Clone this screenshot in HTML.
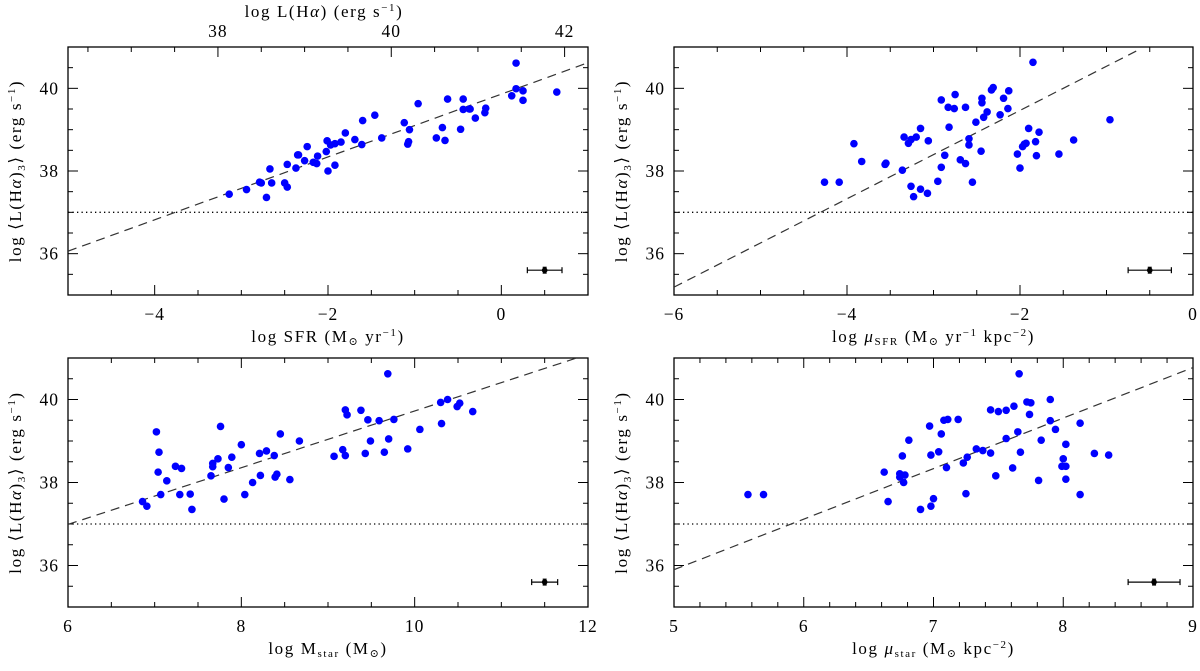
<!DOCTYPE html>
<html><head><meta charset="utf-8">
<style>
html,body{margin:0;padding:0;background:#fff;}
svg text{font-family:"Liberation Serif","DejaVu Serif",serif;fill:#000;}
</style></head>
<body>
<svg id="fig" width="1200" height="666" viewBox="0 0 1200 666" xmlns="http://www.w3.org/2000/svg"></svg>
<script>
// ---- Panel A: log SFR ----
const sfrX = [-3.14,-2.94,-2.79,-2.77,-2.71,-2.65,-2.67,-2.50,-2.47,-2.47,-2.37,-2.35,-2.34,-2.27,-2.24,-2.17,-2.13,-2.12,-2.02,-2.00,-1.92,-2.01,-1.97,-1.92,-1.85,-1.80,-1.69,-1.61,-1.60,-1.46,-1.38,-1.12,-1.06,-1.08,-1.07,-0.96,-0.75,-0.68,-0.65,-0.62,-0.47,-0.44,-0.44,-0.37,-0.36,-0.30,-0.19,-0.18,0.12,0.17,0.17,0.25,0.25,0.64];
const sfrY = [37.44,37.55,37.73,37.71,37.36,37.71,38.05,37.71,37.61,38.16,38.07,38.39,38.39,38.25,38.59,38.21,38.18,38.36,38.47,38.00,38.14,38.73,38.63,38.66,38.70,38.92,38.76,38.64,39.22,39.35,38.80,39.17,39.00,38.65,38.71,39.63,38.80,39.05,38.74,39.74,39.01,39.74,39.49,39.50,39.50,39.28,39.41,39.52,39.82,39.99,40.61,39.94,39.71,39.91];
// ---- Panel B: log mu_SFR ----
const musfrX = [-4.26,-4.09,-3.92,-3.83,-3.56,-3.55,-3.36,-3.34,-3.29,-3.26,-3.20,-3.15,-3.06,-3.26,-3.23,-3.15,-3.07,-2.95,-2.91,-2.87,-2.82,-2.91,-2.83,-2.76,-2.75,-2.63,-2.69,-2.63,-2.59,-2.59,-2.55,-2.51,-2.45,-2.42,-2.44,-2.44,-2.38,-2.33,-2.31,-2.23,-2.19,-2.14,-2.13,-2.03,-2.00,-1.97,-1.95,-1.93,-1.90,-1.85,-1.82,-1.81,-1.78,-1.55,-1.38,-0.96];
const musfrY = [37.73,37.73,38.66,38.23,38.16,38.19,38.02,38.82,38.67,38.76,38.82,39.03,38.73,37.63,37.38,37.56,37.46,37.75,38.09,38.38,39.06,39.72,39.54,39.51,39.85,39.54,38.27,38.18,38.63,38.78,37.73,39.18,38.48,39.30,39.65,39.76,39.43,39.96,40.02,39.36,39.76,39.51,39.94,38.41,38.07,38.59,38.65,38.67,39.03,40.63,38.71,38.37,38.94,38.41,38.75,39.24];
// ---- Panel C: log M_star ----
const mstarX = [6.86,6.91,7.02,7.05,7.04,7.07,7.14,7.24,7.31,7.29,7.41,7.43,7.65,7.67,7.67,7.73,7.76,7.80,7.85,7.89,8.00,8.04,8.13,8.21,8.22,8.29,8.38,8.39,8.41,8.45,8.56,8.67,9.07,9.17,9.20,9.20,9.22,9.38,9.43,9.46,9.49,9.59,9.65,9.69,9.70,9.76,9.92,10.06,10.30,10.31,10.38,10.49,10.52,10.67];
const mstarY = [37.54,37.43,39.22,38.73,38.25,37.71,38.04,38.39,38.34,37.71,37.72,37.35,38.16,38.38,38.46,38.57,39.35,37.60,38.36,38.61,38.91,37.71,38.00,38.70,38.17,38.76,38.65,38.13,38.20,39.17,38.07,39.00,38.63,38.79,38.65,39.75,39.63,39.74,38.70,39.51,39.00,39.49,38.73,40.62,39.05,39.52,38.81,39.28,39.93,39.42,40.00,39.83,39.91,39.71];
// ---- Panel D: log mu_star ----
const mustarX = [5.57,5.69,6.62,6.65,6.74,6.74,6.76,6.78,6.77,6.81,6.90,6.97,6.98,6.98,7.00,7.04,7.06,7.08,7.11,7.10,7.19,7.23,7.25,7.26,7.33,7.38,7.44,7.44,7.48,7.50,7.56,7.56,7.61,7.62,7.65,7.66,7.67,7.72,7.75,7.74,7.81,7.83,7.90,7.90,7.94,7.99,8.00,8.02,8.02,8.02,8.13,8.13,8.24,8.35];
const mustarY = [37.71,37.71,38.25,37.54,38.21,38.13,38.64,38.18,38.00,39.02,37.35,39.36,38.66,37.43,37.61,38.74,39.17,39.50,39.52,38.36,39.52,38.47,37.73,38.61,38.81,38.77,38.71,39.75,38.16,39.71,39.74,39.06,38.35,39.84,39.22,40.62,38.73,39.94,39.92,39.64,38.05,39.02,40.00,39.49,39.28,38.39,38.57,38.92,38.39,38.08,39.43,37.71,38.70,38.66];
// fit lines [x0,y0,x1,y1] in data units, error bar [x,y,dx,dy]
const fitA = [-5, 36.06, 1, 40.62];
const fitB = [-6, 35.19, -0.62, 40.94];
const fitC = [6, 36.99, 12, 41.09];
const fitD = [5, 35.90, 9, 40.77];
const errA = [0.5, 35.6, 0.2, 0.07];
const errB = [-0.5, 35.6, 0.25, 0.07];
const errC = [11.5, 35.6, 0.15, 0.07];
const errD = [8.7, 35.6, 0.2, 0.07];
const limitY = 37;
const yTickLabels = [36, 38, 40];

const NS = "http://www.w3.org/2000/svg";
const svg = document.getElementById('fig');
function mk(tag, attrs, parent) {
  const e = document.createElementNS(NS, tag);
  for (const k in attrs) e.setAttribute(k, attrs[k]);
  (parent || svg).appendChild(e);
  return e;
}

const SUB = 'font-size="11"';
const panels = [
  {id:'sfr', L:68, R:588, T:47, B:295, xmin:-5, xmax:1, xminor:0.5, xmajor:2, labels:[-4,-2,0], xs:sfrX, ys:sfrY, fit:fitA, err:errA, xtitle:'log SFR   (M<tspan '+SUB+' dy="3">⊙</tspan><tspan dy="-3"> yr</tspan><tspan '+SUB+' dy="-6">−1</tspan><tspan dy="6">)</tspan>', top:true},
  {id:'musfr', L:674, R:1193, T:47, B:295, xmin:-6, xmax:0, xminor:0.5, xmajor:2, labels:[-6,-4,-2,0], xs:musfrX, ys:musfrY, fit:fitB, err:errB, xtitle:'log <tspan font-style="italic">μ</tspan><tspan '+SUB+' dy="3">SFR</tspan><tspan dy="-3">   (M</tspan><tspan '+SUB+' dy="3">⊙</tspan><tspan dy="-3"> yr</tspan><tspan '+SUB+' dy="-6">−1</tspan><tspan dy="6"> kpc</tspan><tspan '+SUB+' dy="-6">−2</tspan><tspan dy="6">)</tspan>'},
  {id:'mstar', L:68, R:588, T:358, B:607, xmin:6, xmax:12, xminor:0.5, xmajor:2, labels:[6,8,10,12], xs:mstarX, ys:mstarY, fit:fitC, err:errC, xtitle:'log M<tspan '+SUB+' dy="3">star</tspan><tspan dy="-3">   (M</tspan><tspan '+SUB+' dy="3">⊙</tspan><tspan dy="-3">)</tspan>'},
  {id:'mustar', L:674, R:1193, T:358, B:607, xmin:5, xmax:9, xminor:0.2, xmajor:1, labels:[5,6,7,8,9], xs:mustarX, ys:mustarY, fit:fitD, err:errD, xtitle:'log <tspan font-style="italic">μ</tspan><tspan '+SUB+' dy="3">star</tspan><tspan dy="-3">   (M</tspan><tspan '+SUB+' dy="3">⊙</tspan><tspan dy="-3"> kpc</tspan><tspan '+SUB+' dy="-6">−2</tspan><tspan dy="6">)</tspan>'}
];

panels.forEach(p => {
  const g = mk('g', {});
  
  
  const sx = v => p.L + (v - p.xmin) / (p.xmax - p.xmin) * (p.R - p.L);
  const sy = v => p.B - (v - 35) / 6 * (p.B - p.T);
  const cid = 'clip-' + p.id;
  const cp = mk('clipPath', {id: cid}, g);
  mk('rect', {x:p.L, y:p.T, width:p.R-p.L, height:p.B-p.T}, cp);

  const tg = mk('g', {stroke:'#000', 'stroke-width':1}, g);
  
  
  const nx = Math.round((p.xmax - p.xmin) / p.xminor);
  for (let i = 1; i < nx; i++) {
    const v = p.xmin + i * p.xminor;
    const maj = Math.abs(v / p.xmajor - Math.round(v / p.xmajor)) < 1e-6;
    const len = maj ? 10 : 5;
    const x = sx(v);
    mk('line', {x1:x, x2:x, y1:p.B, y2:p.B-len}, tg);
    if (!p.top) mk('line', {x1:x, x2:x, y1:p.T, y2:p.T+len}, tg);
  }
  for (let i = 1; i < 12; i++) {
    const v = 35 + i * 0.5;
    const maj = (i % 4 === 2);
    const len = maj ? 10 : 5;
    const y = sy(v);
    mk('line', {x1:p.L, x2:p.L+len, y1:y, y2:y}, tg);
    mk('line', {x1:p.R, x2:p.R-len, y1:y, y2:y}, tg);
  }
  const fr = mk('rect', {x:p.L, y:p.T, width:p.R-p.L, height:p.B-p.T, fill:'none', stroke:'#000', 'stroke-width':1.3}, g);
  
  

  p.labels.forEach(v => {
    const t = mk('text', {x:sx(v), y:p.B+25, 'font-size':17.5, 'text-anchor':'middle', 'letter-spacing':'1'}, g);
    
    
    t.textContent = v < 0 ? '−' + Math.abs(v) : String(v);
  });
  yTickLabels.forEach(v => {
    const t = mk('text', {x:p.L-9, y:sy(v)+6, 'font-size':17.5, 'text-anchor':'end', 'letter-spacing':'1'}, g);
    
    
    t.textContent = String(v);
  });
  const xt = mk('text', {x:(p.L+p.R)/2, y:p.B+47, 'font-size':17, 'text-anchor':'middle', 'letter-spacing':'1.6'}, g);
  
  
  xt.innerHTML = p.xtitle;
  const cy = (p.T + p.B) / 2;
  const yt = mk('text', {x:0, y:0, 'font-size':17, 'text-anchor':'middle', 'letter-spacing':'1.6', transform:`translate(${p.L-47},${cy}) rotate(-90)`}, g);
  
  
  yt.innerHTML = 'log ⟨L(H<tspan font-style="italic">α</tspan>)<tspan font-size="11" dy="4">3</tspan><tspan dy="-4">⟩ (erg s</tspan><tspan font-size="11" dy="-6">−1</tspan><tspan dy="6">)</tspan>';

  const inner = mk('g', {'clip-path':`url(#${cid})`}, g);
  const dl = mk('line', {x1:p.L, x2:p.R, y1:sy(limitY), y2:sy(limitY), stroke:'#000', 'stroke-width':1.3, 'stroke-dasharray':'1.3 3.2'}, inner);
  
  
  const f = p.fit;
  const fl = mk('line', {x1:sx(f[0]), y1:sy(f[1]), x2:sx(f[2]), y2:sy(f[3]), stroke:'#333', 'stroke-width':1.2, 'stroke-dasharray':'9 6'}, inner);
  
  
  p.xs.forEach((xv, i) => {
    const c = mk('circle', {cx:sx(xv), cy:sy(p.ys[i]), r:3.8, fill:'#0000ff'}, inner);
    
    
  });
  const e = p.err;
  const eg = mk('g', {stroke:'#000', 'stroke-width':1.2}, g);
  
  
  const ex = sx(e[0]), ey = sy(e[1]);
  const x0 = sx(e[0]-e[2]), x1 = sx(e[0]+e[2]);
  const y0 = sy(e[1]-e[3]), y1 = sy(e[1]+e[3]);
  mk('line', {x1:x0, x2:x1, y1:ey, y2:ey}, eg);
  mk('line', {x1:x0, x2:x0, y1:ey-3, y2:ey+3}, eg);
  mk('line', {x1:x1, x2:x1, y1:ey-3, y2:ey+3}, eg);
  mk('line', {x1:ex, x2:ex, y1:y0, y2:y1}, eg);
  mk('line', {x1:ex-2, x2:ex+2, y1:y0, y2:y0}, eg);
  mk('line', {x1:ex-2, x2:ex+2, y1:y1, y2:y1}, eg);
  mk('circle', {cx:ex, cy:ey, r:2.8, fill:'#000', stroke:'none'}, eg);

  if (p.top) {
    const off = 41.27;
    const tl = [38, 40, 42];
    tl.forEach(v => {
      const t = mk('text', {x:sx(v-off), y:p.T-10, 'font-size':17.5, 'text-anchor':'middle', 'letter-spacing':'1'}, g);
      
      
      t.textContent = String(v);
    });
    for (let v = 36.0; v <= 42.01; v += 0.5) {
      const x = sx(v - off);
      if (x <= p.L || x >= p.R) continue;
      const maj = Math.abs(v/2 - Math.round(v/2)) < 1e-6;
      mk('line', {x1:x, x2:x, y1:p.T, y2:p.T+(maj?10:5), stroke:'#000', 'stroke-width':1}, tg);
    }
    const tt = mk('text', {x:(p.L+p.R)/2 - 4, y:17, 'font-size':17, 'text-anchor':'middle', 'letter-spacing':'1.6'}, g);
    
    
    tt.innerHTML = 'log L(H<tspan font-style="italic">α</tspan>)   (erg s<tspan font-size="11" dy="-6">−1</tspan><tspan dy="6">)</tspan>';
  }
});
</script>
</body></html>
